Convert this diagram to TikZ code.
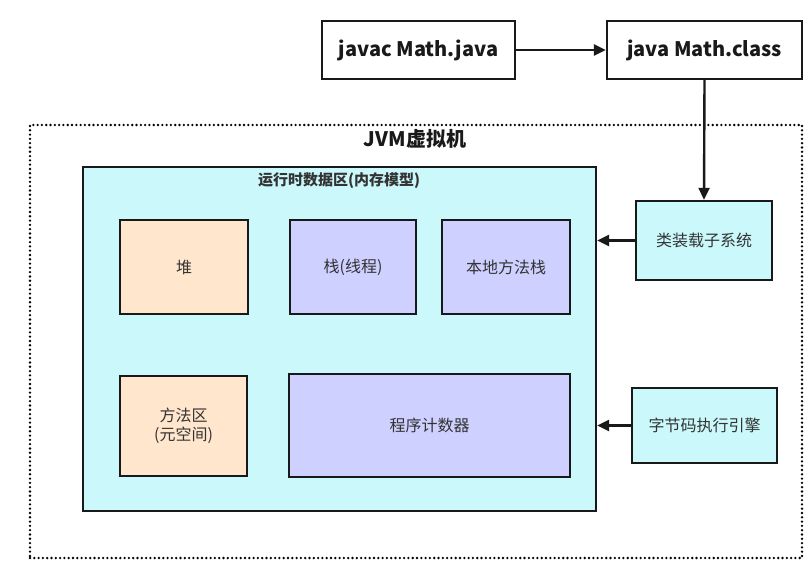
\documentclass[tikz,border=0pt]{standalone}
\usepackage{fontspec}
\setmainfont{Noto Sans CJK SC}
\usetikzlibrary{arrows.meta}
\definecolor{cyanfill}{RGB}{202,248,251}
\definecolor{orangefill}{RGB}{255,230,204}
\definecolor{purplefill}{RGB}{206,208,255}
\definecolor{txt}{RGB}{51,51,51}
\definecolor{edge}{RGB}{25,25,25}
\begin{document}
\begin{tikzpicture}[x=1pt,y=-1pt,
  box/.style={draw=edge, line width=2.4pt, inner sep=0pt, align=center, text=txt, font=\fontsize{16}{19}\selectfont},
  cmdbox/.style={box, fill=white, text=black!90, font=\bfseries\fontsize{20}{24}\selectfont},
  conn/.style={draw=edge, line width=2.4pt, -{Triangle[length=12pt,width=11pt]}}
]
\useasboundingbox[fill=white] (0,0) rectangle (811,580);
% outer dotted frame
\node[draw=black, line width=2.6pt, dash pattern=on 0pt off 4.3pt, line cap=round,
      minimum width=772pt, minimum height=433pt, inner sep=0pt] (jvm) at (416,341.5) {};
\node[font=\bfseries\fontsize{20}{24}\selectfont, text=black!90] (jvmlabel) at (415,139) {JVM虚拟机};

\node[cmdbox, minimum width=193pt, minimum height=58pt] (javac) at (418.5,50) {javac Math.java};
\node[cmdbox, minimum width=195pt, minimum height=58pt] (java) at (704.5,50) {java Math.class};

\node[box, fill=cyanfill, minimum width=513pt, minimum height=344pt] (rt) at (339.5,339) {};
\node[font=\bfseries\fontsize{15}{18}\selectfont, text=txt] (rtlabel) at (339,181) {运行时数据区(内存模型)};

\node[box, fill=orangefill, minimum width=128pt, minimum height=94pt] (heap) at (184,267) {堆};
\node[box, fill=purplefill, minimum width=126pt, minimum height=94pt] (stack) at (353,267) {栈(线程)};
\node[box, fill=purplefill, minimum width=128pt, minimum height=94pt] (native) at (506,267) {本地方法栈};
\node[box, fill=orangefill, minimum width=127pt, minimum height=100pt] (method) at (183.5,426) {方法区\\(元空间)};
\node[box, fill=purplefill, minimum width=281pt, minimum height=103pt] (pc) at (429.5,425.5) {程序计数器};

\node[box, fill=cyanfill, minimum width=136pt, minimum height=79pt] (loader) at (704,240.5) {类装载子系统};
\node[box, fill=cyanfill, minimum width=145pt, minimum height=75pt] (engine) at (704.5,425.5) {字节码执行引擎};

\draw[conn] (javac.east) -- (java.west);
\draw[conn] (java.south) -- (loader.north);
\draw[conn] (loader.west) -- (loader.west -| rt.east);
\draw[conn] (engine.west) -- (engine.west -| rt.east);
\end{tikzpicture}
\end{document}
